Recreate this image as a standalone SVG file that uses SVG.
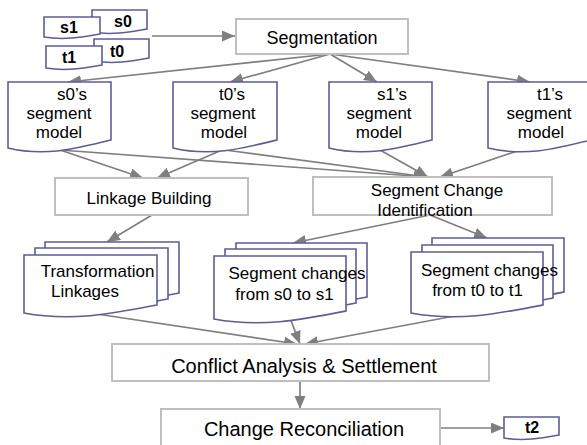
<svg xmlns="http://www.w3.org/2000/svg" width="587" height="445" viewBox="0 0 587 445">
<style>
.box{fill:#fff;stroke:#bfbfbf;stroke-width:2}
.doc{fill:#fff;stroke:#5c5c99;stroke-width:1.6}
.con{fill:none;stroke:#7f7f7f;stroke-width:1.7;marker-end:url(#arr)}
text{font-family:"Liberation Sans",Arial,sans-serif;fill:#000;text-anchor:middle}
.b{font-weight:bold;font-size:16px}
.t17{font-size:17px}
</style>
<defs>
<marker id="arr" markerUnits="userSpaceOnUse" markerWidth="14" markerHeight="12" refX="13" refY="5.5" orient="auto">
<path d="M0,0 L13,5.5 L0,11 Z" fill="#7f7f7f"/>
</marker>
</defs>
<rect width="587" height="445" fill="#fff"/>
<g id="connectors">
<path class="con" d="M152,36 H235"/>
<path class="con" d="M330,54 L68,82"/>
<path class="con" d="M330,54 L230,82"/>
<path class="con" d="M330,54 L377,82"/>
<path class="con" d="M330,54 L530,82"/>
<path class="con" d="M60,150 L143,178"/>
<path class="con" d="M222,150 L157,178"/>
<path class="con" d="M60,150 L427,177"/>
<path class="con" d="M225,150 L427,177"/>
<path class="con" d="M380,150 L428,177"/>
<path class="con" d="M520,150 L440,177"/>
<path class="con" d="M152,215 L107,242"/>
<path class="con" d="M430,215 L293,243"/>
<path class="con" d="M430,215 L487,238"/>
<path class="con" d="M90,313 L297,344"/>
<path class="con" d="M290,318 L300,344"/>
<path class="con" d="M460,315 L305,344"/>
<path class="con" d="M300,381 V409"/>
<path class="con" d="M440,428 H504"/>
</g>
<g id="s0">
<path class="doc" d="M92,10 H147 V29 C127.75,32.4 111.25,35.3 92,32 Z"/>
<text class="b" x="123" y="27">s0</text>
</g>
<g id="s1">
<path class="doc" d="M44,17 H100 V34 C80.4,37.4 63.6,40.3 44,37 Z"/>
<text class="b" x="69" y="32.5">s1</text>
</g>
<g id="t0">
<path class="doc" d="M94,39 H149 V58 C129.75,61.4 113.25,64.3 94,61 Z"/>
<text class="b" x="117" y="57">t0</text>
</g>
<g id="t1">
<path class="doc" d="M46,46 H102 V65 C82.4,68.4 65.6,71.3 46,68 Z"/>
<text class="b" x="69" y="63">t1</text>
</g>
<g id="segmentation">
<rect class="box" x="236" y="19" width="172" height="35"/>
<text x="322" y="44" font-size="18">Segmentation</text>
</g>
<g id="s0-model">
<path class="doc" d="M8,82 H111 V140 C75,149 44,156.8 8,148 Z"/>
<text class="t17" x="72" y="100">s0’s</text>
<text class="t17" x="59" y="119">segment</text>
<text class="t17" x="59" y="138">model</text>
</g>
<g id="t0-model">
<path class="doc" d="M173,82 H277 V140 C240.6,149 209.4,156.8 173,148 Z"/>
<text class="t17" x="232" y="100">t0’s</text>
<text class="t17" x="223" y="119">segment</text>
<text class="t17" x="224" y="138">model</text>
</g>
<g id="s1-model">
<path class="doc" d="M329,82 H432 V140 C396,149 365,156.8 329,148 Z"/>
<text class="t17" x="392" y="100">s1’s</text>
<text class="t17" x="379" y="119">segment</text>
<text class="t17" x="379" y="138">model</text>
</g>
<g id="t1-model">
<path class="doc" d="M488,82 H591 V140 C555,149 524,156.8 488,148 Z"/>
<text class="t17" x="550" y="100">t1’s</text>
<text class="t17" x="539" y="119">segment</text>
<text class="t17" x="541" y="138">model</text>
</g>
<g id="linkage-building">
<rect class="box" x="55" y="178" width="193" height="37"/>
<text class="t17" x="149" y="204">Linkage Building</text>
</g>
<g id="segment-change-identification">
<rect class="box" x="313" y="177" width="239" height="38"/>
<text class="t17" x="437" y="196">Segment Change</text>
<text class="t17" x="425" y="216">Identification</text>
</g>
<g id="transformation-linkages">
<path class="doc" d="M45,242 H179 V293 C132,302 92,309.8 45,301 Z"/>
<path class="doc" d="M35,248 H168 V299 C121.5,308 81.5,315.8 35,307 Z"/>
<path class="doc" d="M24,255 H157 V305 C110.5,314 70.5,321.8 24,313 Z"/>
<text class="t17" x="97.5" y="277">Transformation</text>
<text class="t17" x="85" y="297">Linkages</text>
</g>
<g id="changes-s0-s1">
<path class="doc" d="M236,243 H367 V297 C321,306 282,313.8 236,305 Z"/>
<path class="doc" d="M225,249 H356 V303 C310,312 271,319.8 225,311 Z"/>
<path class="doc" d="M214,256 H346 V311 C299.8,320 260.2,327.8 214,319 Z"/>
<text class="t17" x="297" y="279">Segment changes</text>
<text class="t17" x="284.5" y="300">from s0 to s1</text>
</g>
<g id="changes-t0-t1">
<path class="doc" d="M432,238 H564 V292 C517.8,301 478.2,308.8 432,300 Z"/>
<path class="doc" d="M422,245 H553 V298 C507,307 468,314.8 422,306 Z"/>
<path class="doc" d="M411,252 H543 V305 C496.8,314 457.2,321.8 411,313 Z"/>
<text class="t17" x="489.5" y="276">Segment changes</text>
<text class="t17" x="477.5" y="296">from t0 to t1</text>
</g>
<g id="conflict-analysis">
<rect class="box" x="112" y="344" width="377" height="37"/>
<text x="304" y="372.5" font-size="20">Conflict Analysis &amp; Settlement</text>
</g>
<g id="change-reconciliation">
<rect class="box" x="161" y="409" width="279" height="38"/>
<text x="304" y="436" font-size="20">Change Reconciliation</text>
</g>
<g id="t2">
<path class="doc" d="M504,417 H559 V435 C539.75,438.4 523.25,441.3 504,438 Z"/>
<text class="b" x="532" y="433" font-size="15">t2</text>
</g>
</svg>
